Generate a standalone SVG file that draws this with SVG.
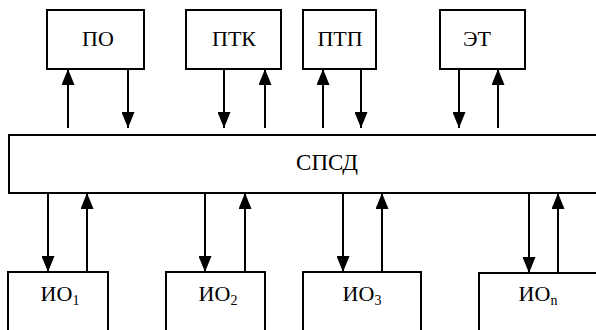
<svg xmlns="http://www.w3.org/2000/svg" width="596" height="330" viewBox="0 0 596 330">
  <style>
    .box { fill: #ffffff; stroke: #000000; stroke-width: 2; }
    .lbl { font-family: 'Liberation Serif', 'DejaVu Serif', 'Times New Roman', serif; font-size: 22px; fill: #000000; text-anchor: middle; }
    .big { font-size: 23px; }
    .sub { font-size: 14px; }
    .link { stroke: #000000; stroke-width: 2; fill: none; marker-end: url(#head); }
  </style>
  <defs>
    <marker id="head" markerUnits="userSpaceOnUse" viewBox="0 -6.5 16 13" refX="16" refY="0" markerWidth="16" markerHeight="13" orient="auto">
      <path d="M0,-6.5 L16,0 L0,6.5 z" fill="#000000"/>
    </marker>
  </defs>

  <rect width="596" height="330" fill="#ffffff"/>

  <!-- upper units -->
  <g id="po">
    <rect class="box" x="47" y="10" width="97" height="59"/>
    <text class="lbl" x="98" y="46" font-family="Liberation Serif, serif">ПО</text>
  </g>
  <g id="ptk">
    <rect class="box" x="186" y="10" width="95" height="59"/>
    <text class="lbl" x="234" y="46" font-family="Liberation Serif, serif">ПТК</text>
  </g>
  <g id="ptp">
    <rect class="box" x="303" y="10" width="73" height="59"/>
    <text class="lbl" x="340" y="46" font-family="Liberation Serif, serif">ПТП</text>
  </g>
  <g id="et">
    <rect class="box" x="440" y="10" width="85" height="59"/>
    <text class="lbl" x="477" y="46" font-family="Liberation Serif, serif">ЭТ</text>
  </g>

  <!-- data transmission network -->
  <g id="spsd">
    <rect class="box" x="9" y="135" width="600" height="58"/>
    <text class="lbl big" x="327" y="170" font-family="Liberation Serif, serif">СПСД</text>
  </g>

  <!-- lower units -->
  <g id="io1">
    <rect class="box" x="8" y="272" width="100" height="70"/>
    <text class="lbl" x="60" y="301" font-family="Liberation Serif, serif">ИО<tspan class="sub" dy="4">1</tspan></text>
  </g>
  <g id="io2">
    <rect class="box" x="166" y="272" width="99" height="70"/>
    <text class="lbl" x="218" y="301" font-family="Liberation Serif, serif">ИО<tspan class="sub" dy="4">2</tspan></text>
  </g>
  <g id="io3">
    <rect class="box" x="303" y="272" width="118" height="70"/>
    <text class="lbl" x="362" y="301" font-family="Liberation Serif, serif">ИО<tspan class="sub" dy="4">3</tspan></text>
  </g>
  <g id="ion">
    <rect class="box" x="479" y="273" width="130" height="70"/>
    <text class="lbl" x="538" y="301" font-family="Liberation Serif, serif">ИО<tspan class="sub" dy="4">n</tspan></text>
  </g>

  <!-- connectors -->
  <g id="connectors">
    <line class="link" x1="68" y1="128" x2="68" y2="69"/>
    <line class="link" x1="128" y1="69" x2="128" y2="128"/>
    <line class="link" x1="224" y1="69" x2="224" y2="128"/>
    <line class="link" x1="265" y1="128" x2="265" y2="69"/>
    <line class="link" x1="323" y1="128" x2="323" y2="69"/>
    <line class="link" x1="361" y1="69" x2="361" y2="128"/>
    <line class="link" x1="459" y1="69" x2="459" y2="128"/>
    <line class="link" x1="498" y1="128" x2="498" y2="69"/>

    <line class="link" x1="48" y1="193" x2="48" y2="272"/>
    <line class="link" x1="87" y1="272" x2="87" y2="193"/>
    <line class="link" x1="205" y1="193" x2="205" y2="272"/>
    <line class="link" x1="245" y1="272" x2="245" y2="193"/>
    <line class="link" x1="343" y1="193" x2="343" y2="272"/>
    <line class="link" x1="382" y1="272" x2="382" y2="193"/>
    <line class="link" x1="529" y1="193" x2="529" y2="273"/>
    <line class="link" x1="558" y1="273" x2="558" y2="193"/>
  </g>
</svg>
